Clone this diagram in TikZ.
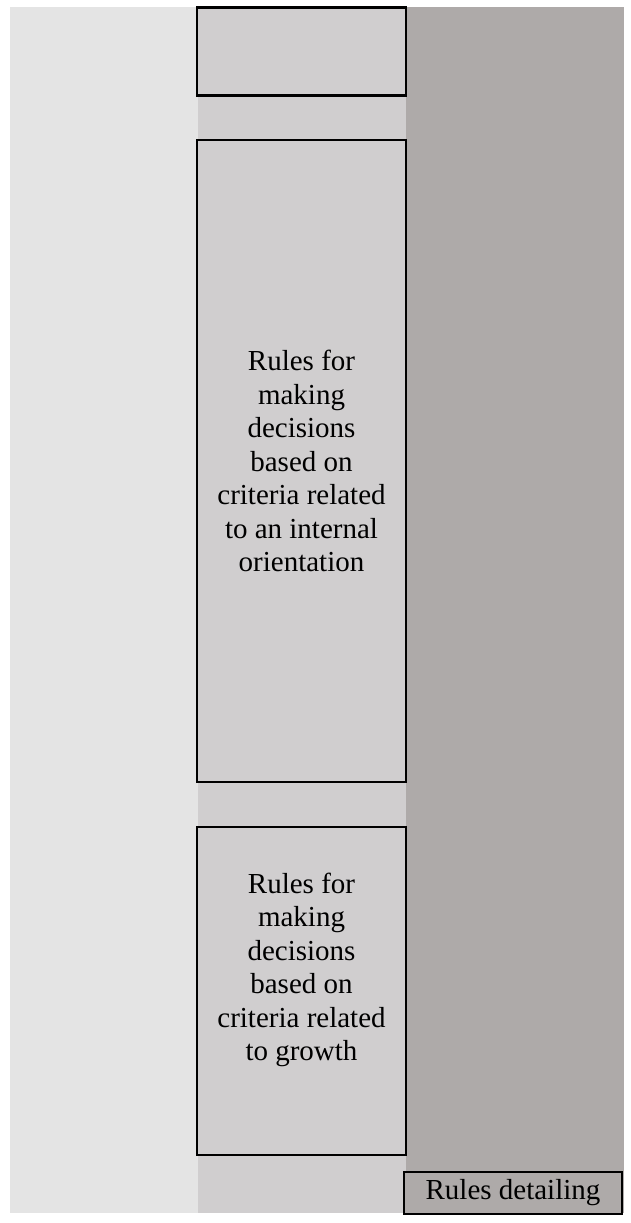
\documentclass[tikz,border=0pt]{standalone}
\usepackage{fontspec}
\setmainfont{Liberation Serif}
\usepackage{tikz}

\definecolor{colA}{HTML}{E4E4E4}
\definecolor{colB}{HTML}{D0CECF}
\definecolor{colC}{HTML}{AEAAA9}

\begin{document}
\begin{tikzpicture}[x=1pt,y=-1pt,
  rulebox/.style={draw=black,line width=2.2pt,fill=colB,inner sep=0pt,minimum width=209pt},
  ruletext/.style={align=center,font=\fontsize{29}{33.5}\selectfont,inner sep=0pt}]
\useasboundingbox (0,0) rectangle (631,1223);
\fill[colA] (10,7) rectangle (198,1213);
\fill[colB] (198,7) rectangle (406,1213);
\fill[colC] (406,7) rectangle (624,1213);
\node[rulebox,minimum height=88pt] (top) at (301.5,51.5) {};
\node[rulebox,minimum height=642pt] (internal) at (301.5,461) {};
\node[ruletext] (internaltxt) at (301.5,461) {Rules for\\making\\decisions\\based on\\criteria related\\to an internal\\orientation};
\node[rulebox,minimum height=328pt] (growth) at (301.5,991) {};
\node[ruletext] (growthtxt) at (301.5,970) {Rules for\\making\\decisions\\based on\\criteria related\\to growth};
\node[draw=black,line width=2.2pt,fill=colC,inner sep=0pt,minimum width=218pt,minimum height=42pt,font=\fontsize{29}{33.5}\selectfont] (detailing) at (513,1193) {Rules detailing};
\end{tikzpicture}
\end{document}
